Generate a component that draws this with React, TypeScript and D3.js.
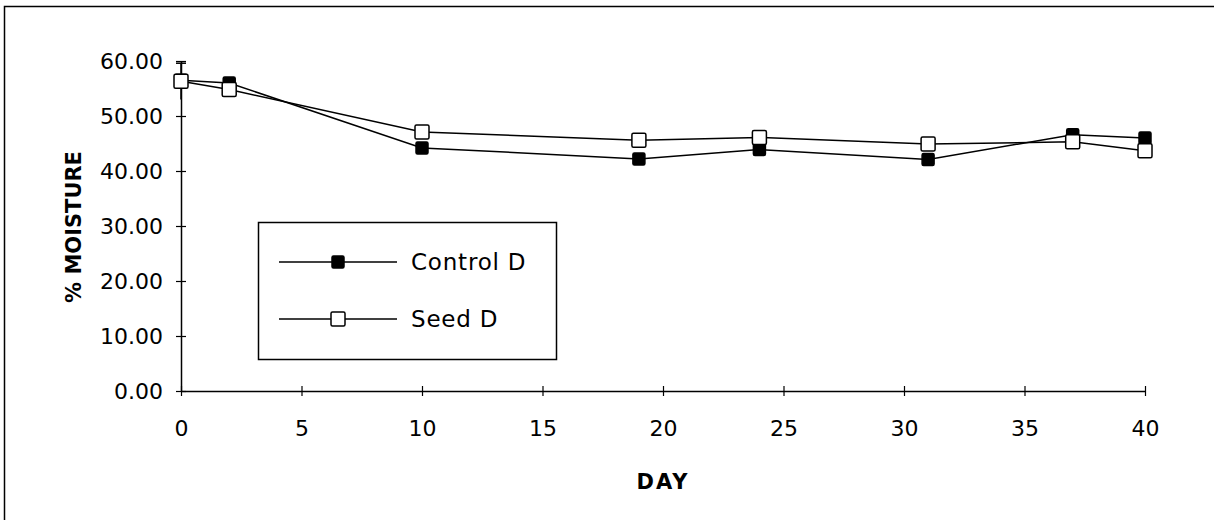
import React, { useEffect, useRef } from 'react';
import * as d3 from 'd3';

// Values
const days = [0, 2, 10, 19, 24, 31, 37, 40];
const controlD = [56.5, 56.0, 44.2, 42.2, 43.9, 42.1, 46.6, 46.0];
const seedD = [56.3, 54.8, 47.1, 45.6, 46.1, 44.9, 45.3, 43.7];
const seedErrDay = 0;
const seedErr = 3.3;
const xTicks = [0, 5, 10, 15, 20, 25, 30, 35, 40];
const yTicks = [0, 10, 20, 30, 40, 50, 60];
const seriesNames = ['Control D', 'Seed D'];

const W = 1214;
const H = 520;
const FONT = '"DejaVu Sans", sans-serif';

const App = () => {
  const ref = useRef<SVGSVGElement>(null);

  useEffect(() => {
    const svg = d3.select(ref.current);
    svg.selectAll('*').remove();

    // outer frame: only the top and left edges show in the picture
    svg.append('path')
      .attr('d', `M4.5,${H}V6.5H${W}`)
      .attr('fill', 'none').attr('stroke', '#000').attr('stroke-width', 1.5);

    const x = d3.scaleLinear().domain([0, 40]).range([181, 1145]);
    const y = d3.scaleLinear().domain([0, 60]).range([391, 61]);

    // y axis
    const yAxis = svg.append('g').attr('transform', `translate(${x(0)},0)`)
      .call(d3.axisLeft(y).tickValues(yTicks).tickSize(0).tickPadding(18).tickFormat(d3.format('.2f')));
    yAxis.select('.domain').attr('stroke', '#000').attr('stroke-width', 1.5);
    yAxis.selectAll('text').attr('font-family', FONT).attr('font-size', 22).attr('fill', '#000');
    yAxis.selectAll('.tick').append('line')
      .attr('x1', -5).attr('x2', 5).attr('stroke', '#000').attr('stroke-width', 1.2);

    // x axis
    const xAxis = svg.append('g').attr('transform', `translate(0,${y(0)})`)
      .call(d3.axisBottom(x).tickValues(xTicks).tickSize(0).tickPadding(29));
    xAxis.select('.domain').attr('stroke', '#000').attr('stroke-width', 1.5);
    xAxis.selectAll('text').attr('font-family', FONT).attr('font-size', 22).attr('fill', '#000');
    xAxis.selectAll('.tick').append('line')
      .attr('y1', -5).attr('y2', 5).attr('stroke', '#000').attr('stroke-width', 1.2);

    // axis titles
    svg.append('text')
      .attr('x', 663).attr('y', 489)
      .attr('text-anchor', 'middle')
      .attr('font-family', FONT).attr('font-weight', 'bold').attr('font-size', 21)
      .attr('letter-spacing', 2)
      .text('DAY');
    svg.append('text')
      .attr('transform', `translate(81,${227}) rotate(-90)`)
      .attr('text-anchor', 'middle')
      .attr('font-family', FONT).attr('font-weight', 'bold').attr('font-size', 21)
      .text('% MOISTURE');

    const line = d3.line<number>()
      .x((d, i) => x(days[i]))
      .y(d => y(d));

    // error bar on seed at day 0
    const ey = seedD[days.indexOf(seedErrDay)];
    svg.append('line')
      .attr('x1', x(seedErrDay)).attr('x2', x(seedErrDay))
      .attr('y1', y(ey - seedErr)).attr('y2', y(ey + seedErr))
      .attr('stroke', '#000').attr('stroke-width', 1.5);
    svg.append('line')
      .attr('x1', x(seedErrDay) - 5).attr('x2', x(seedErrDay) + 5)
      .attr('y1', y(ey + seedErr)).attr('y2', y(ey + seedErr))
      .attr('stroke', '#000').attr('stroke-width', 1.5);

    const series = [
      { name: seriesNames[0], values: controlD, fill: '#000', size: 12 },
      { name: seriesNames[1], values: seedD, fill: '#fff', size: 14 },
    ];

    series.forEach(s => {
      svg.append('path')
        .datum(s.values)
        .attr('fill', 'none')
        .attr('stroke', '#000')
        .attr('stroke-width', 1.5)
        .attr('d', line);
    });
    series.forEach(s => {
      svg.append('g').selectAll('rect')
        .data(s.values)
        .enter().append('rect')
        .attr('x', (d, i) => x(days[i]) - s.size / 2)
        .attr('y', d => y(d) - s.size / 2)
        .attr('width', s.size).attr('height', s.size)
        .attr('rx', 1.5)
        .attr('fill', s.fill)
        .attr('stroke', '#000')
        .attr('stroke-width', 1.5);
    });

    // legend
    const lg = svg.append('g');
    lg.append('rect')
      .attr('x', 258.5).attr('y', 222.5).attr('width', 298).attr('height', 137)
      .attr('fill', '#fff').attr('stroke', '#000').attr('stroke-width', 1.5);
    series.forEach((s, i) => {
      const ly = 262 + i * 57;
      lg.append('line')
        .attr('x1', 279).attr('x2', 397).attr('y1', ly).attr('y2', ly)
        .attr('stroke', '#000').attr('stroke-width', 1.5);
      lg.append('rect')
        .attr('x', 338 - s.size / 2).attr('y', ly - s.size / 2)
        .attr('width', s.size).attr('height', s.size).attr('rx', 1.5)
        .attr('fill', s.fill).attr('stroke', '#000').attr('stroke-width', 1.5);
      lg.append('text')
        .attr('x', 411).attr('y', ly + 8)
        .attr('font-family', FONT).attr('font-size', 23)
        .attr('letter-spacing', 0.8)
        .text(s.name);
    });
  }, []);

  return (
    <svg ref={ref} width={W} height={H}
      style={{ position: 'absolute', left: 0, top: 0, background: '#fff', display: 'block' }} />
  );
};

export default App;
